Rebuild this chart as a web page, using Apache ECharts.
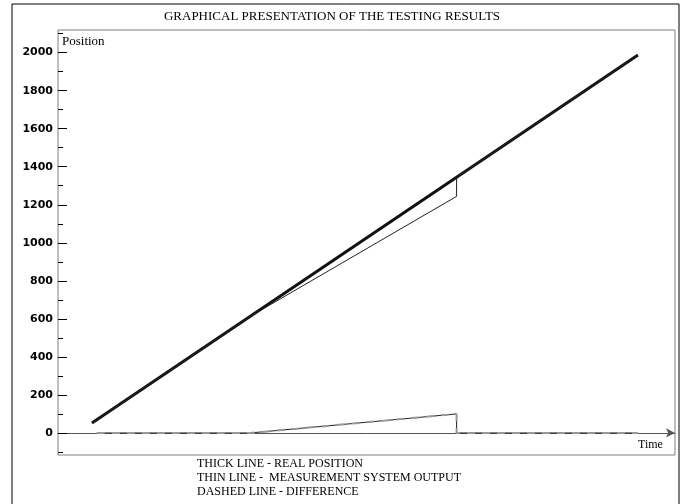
<!DOCTYPE html>
<html>
<head>
<meta charset="utf-8">
<script src="https://cdn.jsdelivr.net/npm/echarts@6/dist/echarts.min.js"></script>
<style>html,body{margin:0;padding:0;background:#fff;}#c{width:682px;height:504px;}</style>
</head>
<body>
<div id="c"></div>
<script>
// Time axis (arbitrary units 0..100), position values
var realTime = [5.5, 94];
var realPos = [52, 1987];
var measTime = [5.5, 31.2, 64.6, 64.6, 94];
var measPos = [52, 614, 1244, 1345, 1987];
var diffTime = [6.3, 31.2, 64.6, 64.6, 94];
var diffVal = [0, 0, 100, 0, 0];
var yMajorTicks = [0, 200, 400, 600, 800, 1000, 1200, 1400, 1600, 1800, 2000];
var yMinorTicks = [-100, 100, 300, 500, 700, 900, 1100, 1300, 1500, 1700, 1900, 2100];

function pairs(t, v) { return t.map(function (x, i) { return [x, v[i]]; }); }

var chart = echarts.init(document.getElementById('c'));
var yBase = { type: 'value', min: -116, max: 2119, splitLine: { show: false }, axisLine: { show: false } };
chart.setOption({
  animation: false,
  backgroundColor: '#fff',
  grid: { left: 58, right: 7, top: 30, bottom: 49, show: true, borderColor: '#808080', borderWidth: 1, backgroundColor: 'transparent' },
  xAxis: {
    type: 'value', min: 0, max: 100,
    axisLine: { show: true, onZero: true, lineStyle: { color: '#555', width: 1 }, symbol: ['none', 'arrow'], symbolSize: [7, 9] },
    axisTick: { show: false }, axisLabel: { show: false }, splitLine: { show: false }
  },
  yAxis: [
    Object.assign({}, yBase, {
      axisTick: { show: true, inside: true, length: 9, customValues: yMajorTicks, lineStyle: { color: '#000' } },
      axisLabel: { show: true, customValues: yMajorTicks, margin: 5, color: '#000', fontFamily: 'DejaVu Sans', fontWeight: 'bold', fontSize: 11,
        formatter: function (v) { return String(v); } }
    }),
    Object.assign({}, yBase, {
      position: 'left',
      axisTick: { show: true, inside: true, length: 5, customValues: yMinorTicks, lineStyle: { color: '#000' } },
      axisLabel: { show: false }
    })
  ],
  series: [
    { type: 'line', data: pairs(diffTime, diffVal), showSymbol: false, lineStyle: { color: '#222', width: 1 }, z: 3 },
    { type: 'line', data: pairs(diffTime, diffVal), showSymbol: false, lineStyle: { color: '#999', width: 2, type: [8, 7] }, z: 3 },
    { type: 'line', data: pairs(realTime, realPos), showSymbol: false, lineStyle: { color: '#111', width: 3 }, z: 4 },
    { type: 'line', data: pairs(measTime, measPos), showSymbol: false, lineStyle: { color: '#222', width: 1 }, z: 5 }
  ],
  graphic: [
    { type: 'rect', shape: { x: 12, y: 4, width: 667, height: 520 }, style: { fill: 'none', stroke: '#000', lineWidth: 1 }, silent: true },
    { type: 'text', x: 332, y: 10, style: { text: 'GRAPHICAL PRESENTATION OF THE TESTING RESULTS', align: 'center', font: '13px "Liberation Serif"', fill: '#000' } },
    { type: 'text', x: 62, y: 35, style: { text: 'Position', font: '13px "Liberation Serif"', fill: '#000' } },
    { type: 'text', x: 638, y: 439, style: { text: 'Time', font: '12px "Liberation Serif"', fill: '#000' } },
    { type: 'text', x: 197, y: 458, style: { text: 'THICK LINE - REAL POSITION', font: '12px "Liberation Serif"', fill: '#000' } },
    { type: 'text', x: 197, y: 472, style: { text: 'THIN LINE -  MEASUREMENT SYSTEM OUTPUT', font: '12px "Liberation Serif"', fill: '#000' } },
    { type: 'text', x: 197, y: 486, style: { text: 'DASHED LINE - DIFFERENCE', font: '12px "Liberation Serif"', fill: '#000' } }
  ]
});
</script>
</body>
</html>
